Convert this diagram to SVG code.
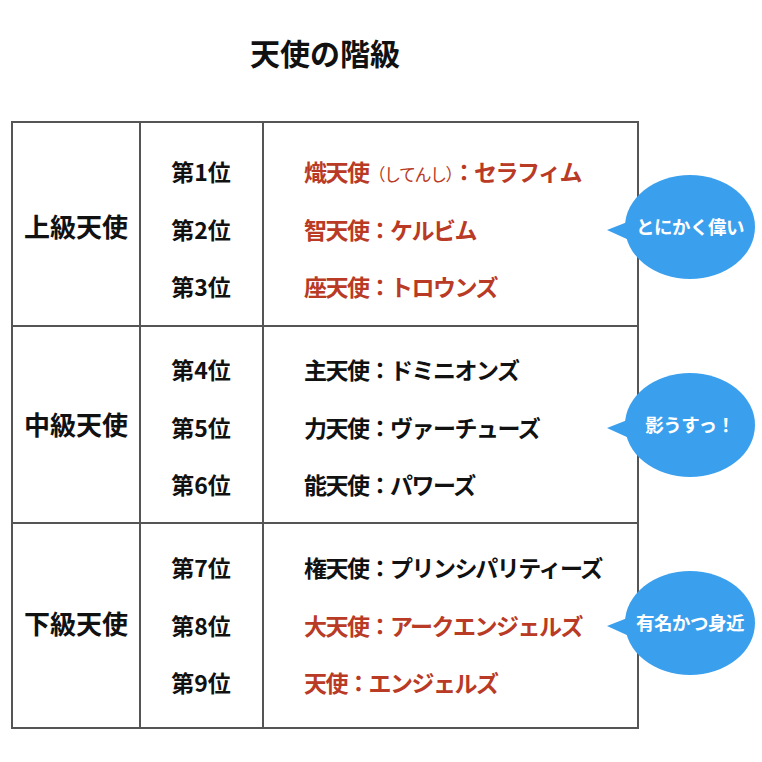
<svg xmlns="http://www.w3.org/2000/svg" width="762" height="762" viewBox="0 0 762 762">
<style>
text{font-family:"Noto Sans CJK JP","Noto Sans CJK SC",sans-serif;font-weight:bold;font-size:23px;fill:#111}
.n{letter-spacing:-1.5px}
.r{fill:#b93a25}
.g{font-size:26px}
.b{fill:#3aa0ee}
.w{fill:#fff;font-size:18.5px;letter-spacing:-0.5px}
line{stroke:#555;stroke-width:2}
</style>
<rect width="762" height="762" fill="#fff"/>
<text x="325" y="65" text-anchor="middle" style="font-size:30px">天使の階級</text>
<g id="table">
<rect x="12" y="122" width="626" height="606" fill="none" stroke="#555" stroke-width="2"/>
<line x1="140" y1="122" x2="140" y2="728"/>
<line x1="263" y1="122" x2="263" y2="728"/>
<line x1="12" y1="326" x2="638" y2="326"/>
<line x1="12" y1="523" x2="638" y2="523"/>
</g>
<g id="groups">
<text class="g" x="76" y="237" text-anchor="middle">上級天使</text>
<text class="g" x="76" y="435" text-anchor="middle">中級天使</text>
<text class="g" x="76" y="634" text-anchor="middle">下級天使</text>
</g>
<g id="ranks" text-anchor="middle">
<text x="201" y="181">第1位</text><text x="201" y="239">第2位</text><text x="201" y="296">第3位</text>
<text x="201" y="379">第4位</text><text x="201" y="437">第5位</text><text x="201" y="494">第6位</text>
<text x="201" y="577">第7位</text><text x="201" y="635">第8位</text><text x="201" y="692">第9位</text>
</g>
<g id="names">
<text class="r n" x="304" y="181">熾天使<tspan style="font-size:17px;font-weight:normal">（してんし）</tspan>：セラフィム</text>
<text class="r n" x="304" y="239">智天使：ケルビム</text>
<text class="r n" x="304" y="296">座天使：トロウンズ</text>
<text class="n" x="304" y="379">主天使：ドミニオンズ</text>
<text class="n" x="304" y="437">力天使：ヴァーチューズ</text>
<text class="n" x="304" y="494">能天使：パワーズ</text>
<text class="n" x="304" y="577">権天使：プリンシパリティーズ</text>
<text class="r n" x="304" y="635">大天使：アークエンジェルズ</text>
<text class="r n" x="304" y="692">天使：エンジェルズ</text>
</g>
<g id="bubble1"><path class="b" d="M607,230 L640,217 L640,245 Z"/><ellipse class="b" cx="690" cy="227" rx="65" ry="52"/><text class="w" x="690" y="234" text-anchor="middle">とにかく偉い</text></g>
<g id="bubble2"><path class="b" d="M607,428 L640,415 L640,443 Z"/><ellipse class="b" cx="690" cy="425" rx="65" ry="52"/><text class="w" x="690" y="432" text-anchor="middle">影うすっ！</text></g>
<g id="bubble3"><path class="b" d="M607,626 L640,613 L640,641 Z"/><ellipse class="b" cx="690" cy="623" rx="65" ry="52"/><text class="w" x="690" y="630" text-anchor="middle">有名かつ身近</text></g>
</svg>
